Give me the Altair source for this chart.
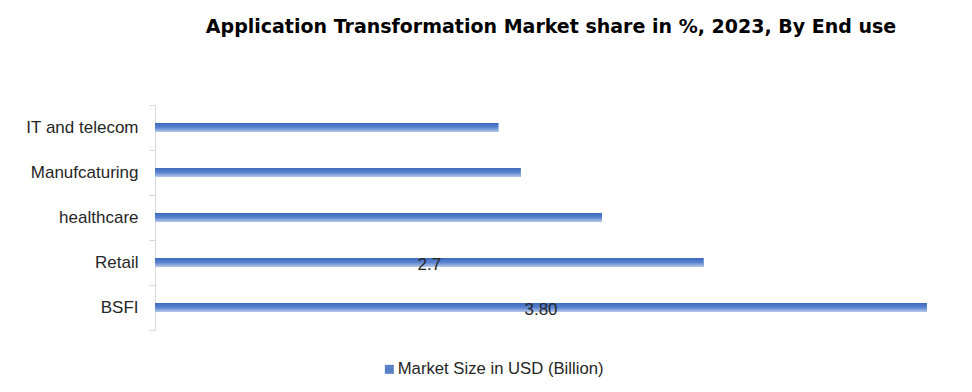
import altair as alt
import pandas as pd

categories = ["IT and telecom", "Manufcaturing", "healthcare", "Retail", "BSFI"]
values = [1.69, 1.80, 2.20, 2.70, 3.80]
value_labels = ["", "", "", "2.7", "3.80"]
series_name = "Market Size in USD (Billion)"

df = pd.DataFrame({
    "category": categories,
    "value": values,
    "label": value_labels,
    "series": [series_name] * len(categories),
})

FONT = "Liberation Sans"

y_enc = alt.Y(
    "category:N",
    sort=categories,
    scale=alt.Scale(paddingInner=0, paddingOuter=0),
    axis=alt.Axis(
        title=None,
        domainColor="#d9d9d9",
        tickColor="#d9d9d9",
        tickSize=6,
        tickBand="extent",
        labelFont=FONT,
        labelFontSize=17,
        labelColor="#262626",
        labelPadding=11,
        grid=False,
    ),
)
x_enc = alt.X(
    "value:Q",
    scale=alt.Scale(domain=[0, 3.8], nice=False, zero=True),
    axis=None,
)

legend_bars = alt.Chart(df).mark_bar(size=9).encode(
    x=x_enc,
    y=y_enc,
    color=alt.Color(
        "series:N",
        scale=alt.Scale(range=["#5a80c8"]),
        legend=alt.Legend(
            title=None,
            orient="none",
            legendX=226,
            legendY=256,
            symbolType="square",
            symbolSize=81,
            symbolStrokeWidth=0,
            labelFont=FONT,
            labelFontSize=16.7,
            labelColor="#262626",
            labelOffset=0,
            labelLimit=0,
            padding=0,
        ),
    ),
)

gradient = alt.Gradient(
    gradient="linear",
    x1=0, y1=0, x2=0, y2=1,
    stops=[
        alt.GradientStop(color="#3d68bd", offset=0),
        alt.GradientStop(color="#5a84cf", offset=0.5),
        alt.GradientStop(color="#b7c9eb", offset=1),
    ],
)

grad_bars = alt.Chart(df).mark_bar(size=9, color=gradient).encode(
    x=x_enc,
    y=alt.Y("category:N", sort=categories),
)

text = alt.Chart(df).mark_text(
    font=FONT, fontSize=17, color="#262626", baseline="middle", dy=2
).encode(
    x=alt.X("mid:Q", scale=alt.Scale(domain=[0, 3.8], nice=False)),
    y=alt.Y("category:N", sort=categories),
    text="label:N",
).transform_calculate(mid="datum.value / 2")

chart = alt.layer(legend_bars, grad_bars, text).properties(
    width=772,
    height=225,
    autosize=alt.AutoSizeParams(type="none"),
    padding={"left": 147, "top": 97, "right": 37, "bottom": 50},
    title=alt.TitleParams(
        "Application Transformation Market share in %, 2023, By End use",
        font="DejaVu Sans",
        fontSize=19,
        fontWeight="bold",
        color="#000000",
        anchor="middle",
        dx=10,
        offset=59,
    ),
).configure_view(stroke=None)

chart.save("out.html", embed_options={"renderer": "svg", "actions": False})
